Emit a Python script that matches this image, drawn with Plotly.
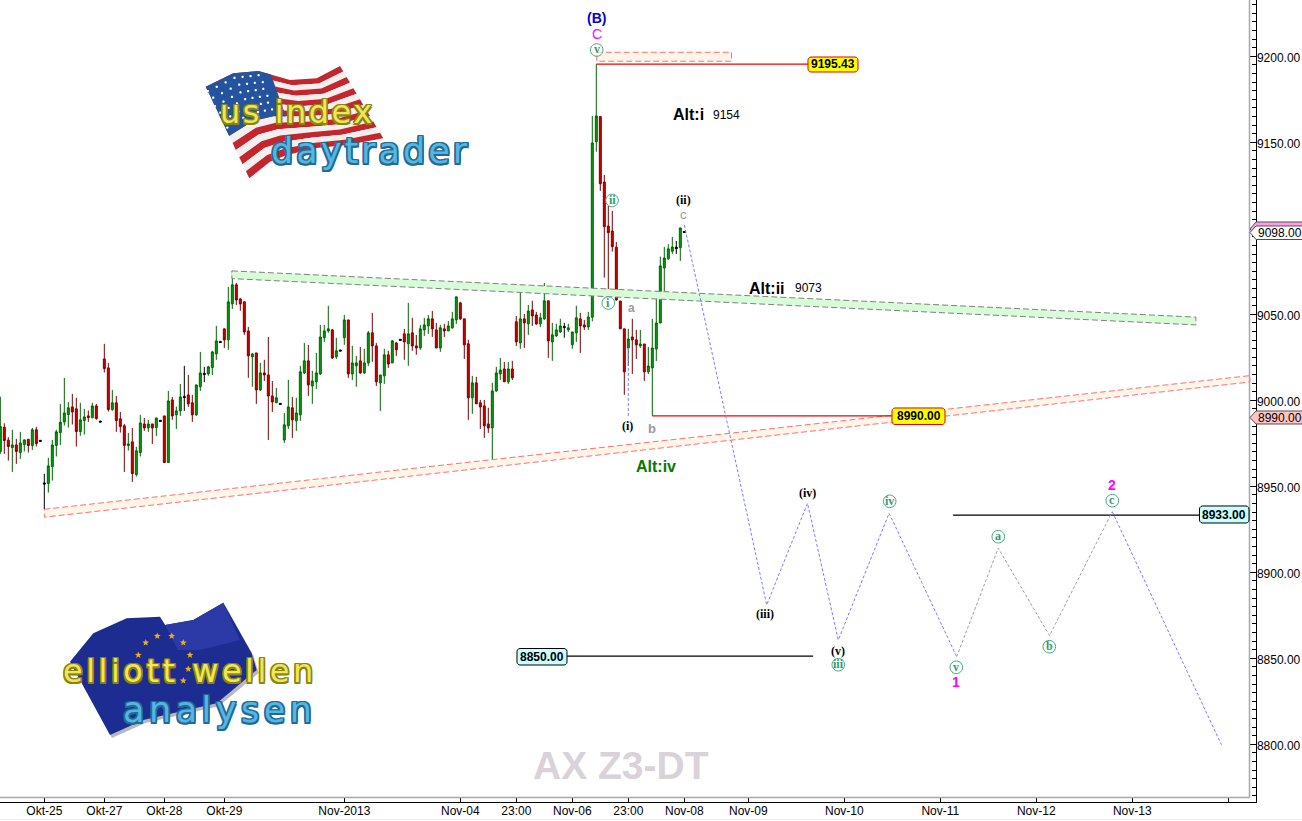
import math
import plotly.graph_objects as go

W, H = 1302, 821
AX_R, AX_B = 1255.5, 802

# ---------- candles (oldest first) ----------
candle_open = [8970.2,8984.3,8976.8,8972.5,8974.0,8969.6,8974.2,8977.3,8973.7,8982.8,8976.7,8951.9,8951.6,8961.4,8973.7,8981.2,8987.4,8991.7,8996.1,8995.0,
8981.8,8988.2,8990.9,8989.9,8996.7,8987.9,9024.0,9018.8,8994.6,8998.5,8989.2,8985.1,8973.7,8975.8,8956.8,8969.6,8986.2,8983.9,8986.2,8984.1,
8988.3,8990.9,8963.8,9000.2,8991.5,8993.8,9002.2,9003.1,8998.5,8991.5,9007.8,9015.6,9015.3,9019.0,9026.9,9034.2,9041.5,9035.1,9056.0,9067.1,
9058.9,9057.2,9040.3,9025.2,9027.5,9006.0,9015.9,9014.7,9002.5,8998.5,8998.2,8976.9,8985.1,8995.6,8988.0,8991.5,9015.9,9022.9,9008.3,9010.7,
9015.3,9036.3,9040.3,9040.9,9025.2,9029.2,9036.3,9046.7,9015.3,9020.0,9022.9,9015.9,9021.7,9039.2,9031.6,9010.1,9014.2,9026.4,9021.7,9033.3,
9035.4,9038.6,9032.8,9039.2,9031.6,9030.4,9040.9,9043.2,9047.3,9040.9,9030.4,9041.5,9040.3,9042.1,9046.7,9056.6,9047.3,9032.8,9001.4,9010.1,
8998.5,8996.7,8986.2,8983.9,9005.4,9015.3,9018.2,9010.7,9018.2,9045.6,9033.3,9047.3,9044.4,9052.5,9049.6,9044.4,9047.3,9057.8,9033.9,9037.4,
9039.7,9042.9,9040.9,9032.2,9039.2,9047.3,9043.8,9042.6,9048.3,9150.3,9164.9,9126.9,9101.3,9098.4,9089.0,9057.7,9041.5,9030.4,9036.8,9035.1,
9031.6,9032.7,9016.5,9018.8,9029.8,9044.9,9076.9,9082.2,9086.6,9089.0,9088.7,9098.1]
candle_high = [9002.1,8986.6,8978.5,8982.8,8977.5,8981.6,8977.3,8977.3,8983.9,8984.5,8976.7,8957.2,8966.5,8976.9,8982.8,8997.9,9013.0,8999.0,9003.7,9001.4,
8998.5,8995.0,8994.0,8998.5,8997.9,8987.9,9032.8,9021.7,9006.0,9002.5,8993.2,8986.2,8981.0,8983.9,8972.9,8991.5,8989.7,8988.6,8986.2,8989.7,
8988.3,8990.9,9005.4,9001.9,8996.3,9009.5,9020.0,9014.7,9003.1,9008.9,9028.1,9019.4,9020.0,9028.7,9043.2,9034.2,9041.5,9065.9,9075.2,9068.2,
9059.5,9057.2,9042.6,9027.5,9027.5,9021.7,9023.5,9036.8,9011.2,9007.2,8998.2,8992.6,9011.8,9001.9,9001.4,9020.0,9033.3,9032.2,9017.1,9027.5,
9043.8,9043.8,9054.9,9041.5,9036.3,9029.2,9049.6,9046.7,9031.6,9025.8,9031.0,9029.9,9040.3,9050.8,9033.3,9014.7,9029.9,9028.7,9035.1,9033.9,
9035.4,9041.5,9056.6,9047.9,9038.0,9043.8,9047.9,9049.6,9051.9,9045.0,9043.8,9044.4,9046.1,9051.4,9060.1,9057.2,9047.3,9035.1,9014.2,9013.6,
9000.2,9000.2,8995.6,9010.1,9019.4,9024.6,9022.3,9022.3,9022.9,9049.0,9063.6,9050.2,9055.4,9057.8,9051.4,9050.8,9068.2,9057.8,9045.0,9044.4,
9047.3,9045.0,9044.4,9039.7,9054.9,9050.8,9046.7,9051.4,9165.3,9195.4,9165.3,9131.0,9113.0,9110.1,9092.0,9057.7,9041.5,9041.5,9047.3,9040.9,
9040.9,9032.7,9031.0,9047.3,9063.5,9083.5,9089.1,9090.7,9094.9,9092.6,9100.2,9098.1]
candle_low = [8968.8,8968.8,8964.9,8958.3,8963.0,8965.9,8970.2,8969.6,8971.1,8973.1,8976.1,8936.6,8946.3,8953.3,8967.3,8974.0,8985.3,8984.1,8985.9,8973.1,
8979.3,8980.0,8987.4,8989.4,8988.6,8987.3,9016.1,8993.4,8993.8,8981.6,8981.2,8958.3,8970.7,8952.5,8955.6,8967.3,8982.2,8981.6,8974.6,8979.3,
8987.7,8963.8,8963.8,8988.6,8983.3,8990.9,8993.8,8996.1,8987.4,8990.9,9005.4,9010.5,9014.2,9014.7,9023.5,9033.6,9030.4,9029.3,9053.1,9055.4,
9052.0,9038.0,9013.0,9007.8,8997.9,9005.4,9011.2,8976.9,8993.2,8998.5,8997.6,8975.2,8983.3,8978.1,8982.2,8988.0,9015.3,9002.5,8997.9,9006.6,
9014.7,9033.9,9039.2,9024.0,9024.0,9028.6,9032.2,9013.0,9011.8,9007.8,9015.3,9015.3,9020.0,9022.3,9008.3,8993.8,9009.5,9018.8,9021.7,9025.8,
9034.8,9023.5,9020.0,9028.7,9026.4,9029.3,9037.4,9038.6,9036.8,9030.4,9028.1,9036.8,9040.3,9041.5,9044.4,9046.7,9024.0,8988.6,8992.1,8997.9,
8983.3,8978.1,8981.0,8965.3,9004.9,9011.8,9010.7,9009.5,9011.8,9031.6,9029.9,9030.4,9038.0,9043.2,9043.8,9042.6,9046.7,9024.6,9022.9,9036.8,
9039.2,9036.3,9039.7,9029.9,9033.9,9027.5,9040.9,9040.9,9045.9,9144.5,9121.7,9071.3,9063.0,9086.4,9057.9,9041.5,9003.1,9019.9,9015.3,9024.0,
9030.4,9011.2,9015.3,8990.9,9022.8,9044.9,9063.5,9081.6,9085.1,9085.1,9081.0,9097.5]
candle_close = [8984.7,8976.6,8973.1,8974.0,8970.2,8975.2,8976.9,8973.7,8982.8,8974.8,8976.1,8951.3,8961.8,8974.0,8981.6,8987.2,8992.6,8995.6,8993.2,8981.8,
8988.6,8990.3,8989.9,8996.7,8989.4,8987.3,9018.4,8994.6,8998.5,8988.2,8984.7,8973.7,8974.6,8957.4,8970.6,8986.8,8983.9,8986.2,8983.9,8989.7,
8987.7,8963.8,8999.6,8990.9,8993.8,9001.9,9001.6,8997.9,8991.5,9008.9,9015.9,9015.0,9019.4,9028.1,9034.5,9033.6,9035.1,9057.2,9067.1,9058.3,
9056.0,9039.7,9025.8,9026.9,9006.0,9015.9,9014.7,9002.5,8999.0,9001.4,8997.6,8985.7,8996.1,8988.6,8992.6,9016.5,9022.9,9008.9,9011.2,9015.9,
9036.8,9040.3,9041.5,9024.6,9028.7,9028.6,9046.7,9015.3,9021.7,9021.7,9015.9,9021.7,9039.2,9031.6,9010.7,9014.7,9026.4,9021.1,9034.5,9029.3,
9034.8,9033.9,9038.6,9031.6,9030.4,9041.5,9043.8,9047.3,9041.5,9030.4,9042.1,9040.3,9043.2,9047.3,9060.1,9047.3,9032.2,9001.4,9010.1,8997.9,
8996.1,8985.1,8983.9,9005.4,9015.9,9017.6,9010.7,9018.2,9013.0,9033.9,9047.3,9045.0,9051.9,9049.0,9044.4,9047.9,9057.8,9034.5,9038.0,9040.9,
9043.2,9042.3,9042.1,9039.7,9047.9,9043.2,9042.6,9048.4,9149.6,9165.3,9125.9,9100.9,9097.4,9089.3,9058.3,9041.5,9016.5,9035.6,9035.1,9032.2,
9032.7,9016.5,9019.9,9030.4,9044.9,9078.1,9082.7,9088.0,9089.1,9088.1,9100.2,9097.5]
doji_index = [10, 11, 25, 40, 46, 51, 55, 70, 85, 100, 141, 169, 171]

# ---------- drawn levels and projected wave ----------
level_9195 = 9195.4
level_8990 = 8990.9
level_8933 = 8933.2
level_8850 = 8851.2
swing_low_index = 163
peak_index = 149

wave_blue_a_x = [171, 191.6, 201.8, 209.5, 222.2, 239.1]
wave_blue_a_y = [9101.9, 8881.0, 8940.1, 8860.6, 8934.3, 8850.9]
wave_grey_x = [239.1, 249.5, 262.3, 278.0]
wave_grey_y = [8850.9, 8914.0, 8863.1, 8935.2]
wave_blue_b_x = [278.0, 305.3]
wave_blue_b_y = [8935.2, 8799.6]
wave_i_x = [157, 157]
wave_i_y = [9030.4, 8990.6]

green_chan_x = [57.9, 298.9, 298.9, 57.9, 57.9]
green_chan_y = [9075.2, 9048.3, 9043.8, 9070.7, 9075.2]
red_chan_x = [11, 312.4, 312.4, 11, 11]
red_chan_y = [8936.6, 9014.3, 9010.6, 8932.0, 8936.6]
top_box_x = [149.1, 182.8, 182.8, 149.1, 149.1]
top_box_y = [9202.3, 9202.3, 9197.1, 9197.1, 9202.3]

x_tick_index = [11, 26, 41, 56, 86, 115, 129, 143, 157, 171, 187, 211, 235, 259, 283, 307]
x_tick_text = ["Okt-25", "Okt-27", "Okt-28", "Okt-29", "Nov-2013", "Nov-04", "23:00", "Nov-06", "23:00",
               "Nov-08", "Nov-09", "Nov-10", "Nov-11", "Nov-12", "Nov-13", ""]

FONT = "Liberation Sans"
SERIF = "Liberation Serif"
TEAL = "#3faa82"

def px(x, y):
    return x / W, 1 - y / H

def path(points):
    s = []
    for i, (x, y) in enumerate(points):
        a, b = px(x, y)
        s.append(("M" if i == 0 else "L") + f"{a:.5f},{b:.5f}")
    return " ".join(s) + " Z"

shapes, notes = [], []

def poly(points, fill, line=None, width=1, layer="above"):
    shapes.append(dict(type="path", xref="paper", yref="paper", path=path(points), fillcolor=fill,
                       line=dict(color=line or "rgba(0,0,0,0)", width=width if line else 0), layer=layer))

def note(text, x, y, size=12, color="black", bold=False, family=FONT, italic=False):
    a, b = px(x, y)
    f = dict(family=family, size=size, color=color, weight=700 if bold else 400)
    if italic:
        f["style"] = "italic"
    notes.append(dict(text=text, x=a, y=b, xref="paper", yref="paper", xanchor="center", yanchor="middle",
                      showarrow=False, font=f, borderpad=0))

def outline_css(color):
    offs = [(1.5, 0), (-1.5, 0), (0, 1.5), (0, -1.5), (1.5, 1.5), (-1.5, -1.5), (1.5, -1.5), (-1.5, 1.5)]
    return ",".join(f"{a}px {b}px {color}" for a, b in offs)

def logo_word(text, x, y, size, spacing, fill, edge):
    styled = f'<span style="letter-spacing:{spacing}px;text-shadow:{outline_css(edge)}">{text}</span>'
    note(styled, x, y, size, fill, False, "DejaVu Sans")

def rrect(x0, y0, x1, y1, r, fill, line):
    pts = []
    for cx, cy, a0 in [(x1 - r, y0 + r, -90), (x1 - r, y1 - r, 0), (x0 + r, y1 - r, 90), (x0 + r, y0 + r, 180)]:
        for d in (0, 30, 60, 90):
            t = math.radians(a0 + d)
            pts.append((cx + r * math.cos(t), cy + r * math.sin(t)))
    poly(pts, fill, line, 1)

def circled(text, x, y):
    pts = [(x + 6.3 * math.cos(i * math.pi / 12), y + 6.3 * math.sin(i * math.pi / 12)) for i in range(24)]
    poly(pts, "rgba(255,255,255,0.6)", TEAL, 1)
    note(text, x, y - 0.5, 12, "#2f9a72", True, SERIF)

def star(cx, cy, r, fill):
    pts = []
    for i in range(10):
        rr = r if i % 2 == 0 else r * 0.42
        t = -math.pi / 2 + i * math.pi / 5
        pts.append((cx + rr * math.cos(t), cy + rr * math.sin(t)))
    poly(pts, fill)

# ---------- frame ----------
shapes.append(dict(type="line", xref="paper", yref="paper", x0=1249.5 / W, x1=1249.5 / W, y0=1 - 797.5 / H, y1=1,
                   line=dict(color="#a8a8a8", width=1.5), layer="above"))
shapes.append(dict(type="line", xref="paper", yref="paper", x0=0, x1=1249.5 / W, y0=1 - 797.5 / H, y1=1 - 797.5 / H,
                   line=dict(color="#a8a8a8", width=1.5), layer="above"))
shapes.append(dict(type="line", xref="paper", yref="paper", x0=0, x1=1, y0=1 - 819.5 / H, y1=1 - 819.5 / H,
                   line=dict(color="#f3eef3", width=1), layer="above"))

# ---------- US flag logo ----------
top = [(205.7, 86.7), (233.3, 73.3), (258.3, 71), (290, 80), (316.7, 78.3), (340, 66)]
bot = [(249.3, 178.3), (270, 161.7), (286.7, 155), (316.7, 148), (346.7, 145), (383.3, 138.3)]
def lerp(p, q, t):
    return (p[0] + (q[0] - p[0]) * t, p[1] + (q[1] - p[1]) * t)
for i in range(13):
    t0, t1 = i / 13, (i + 1) / 13
    pts = [lerp(a, b, t0) for a, b in zip(top, bot)] + [lerp(a, b, t1) for a, b in zip(top, bot)][::-1]
    poly(pts, "#c4262e" if i % 2 == 0 else "#f4efef")
c_t = 7 / 13
canton = top[:3] + [lerp(top[2], top[3], 0.4)] + [lerp(lerp(top[2], top[3], 0.4), lerp(bot[2], bot[3], 0.4), c_t)] + \
    [lerp(a, b, c_t) for a, b in zip(top[:3], bot[:3])][::-1]
poly(canton, "#24549f")
for r in range(6):
    for c in range(7):
        s = c / 6.6 * 2.15 + 0.07 * (r % 2)
        j = min(int(s), 4)
        f = s - j
        t_ = (r + 0.6) / 6.6 * c_t
        p = lerp(lerp(top[j], top[j + 1], f), lerp(bot[j], bot[j + 1], f), t_)
        pts = [(p[0] + 1.3 * math.cos(k * math.pi / 3), p[1] + 1.3 * math.sin(k * math.pi / 3)) for k in range(6)]
        poly(pts, "white")
logo_word("us index", 297.5, 112, 32, 2.5, "#efe65a", "#8c8412")
logo_word("daytrader", 370, 151, 35, 3, "#58b4e0", "#1e6c96")

# ---------- EU flag logo ----------
eu = [(70, 661.7), (93.3, 633.3), (126.7, 618.3), (160, 616.7), (165, 625), (193.3, 620), (223.3, 602.7),
      (251.7, 653.3), (256.7, 670), (216.7, 703.3), (143.3, 720), (110, 735)]
poly([(x + 2, y + 3) for x, y in eu], "#b8b8c0")
poly(eu, "#1d2c90")
poly([(165, 625), (193.3, 620), (223.3, 602.7), (240, 640), (200, 650), (178, 650)], "#2b3aa6")
for sx, sy in [(145.7, 642.7), (157.3, 636), (171.7, 636), (183.3, 642.7), (190, 655), (188.3, 669), (183.3, 680.7), (138.3, 655)]:
    star(sx, sy, 3.6, "#f0b010")
logo_word("elliott wellen", 190, 671, 32, 3.5, "#efe65a", "#8c8412")
logo_word("analysen", 219.5, 710, 35, 4.5, "#58b4e0", "#1e6c96")

# ---------- level boxes and tags ----------
rrect(808, 57, 858, 72, 3, "#ffff00", "#e00000")
note("9195.43", 833, 64.5, 12, bold=True)
rrect(892, 408, 945, 424.5, 3, "#ffff00", "#e00000")
note("8990.00", 918.5, 416.5, 12, bold=True)
rrect(1199.5, 506, 1249, 523, 3, "#c8ffff", "black")
note("8933.00", 1224, 514.5, 12, bold=True)
rrect(517, 648.5, 567, 665, 3, "#c8ffff", "black")
note("8850.00", 542, 657, 12, bold=True)

poly([(1250, 229), (1256, 222), (1303, 222), (1303, 236), (1256, 236)], "#ff9ee8", "#505050")
poly([(1250, 232.5), (1256, 226), (1303, 226), (1303, 239.5), (1256, 239.5)], "white", "#505050")
poly([(1250, 417.5), (1256, 411), (1303, 411), (1303, 424), (1256, 424)], "#ffc4c4", "#505050")
note("9098.00", 1280, 232.8, 12)
note("8990.00", 1280, 417.8, 12)

# ---------- wave labels ----------
note("(B)", 596, 18, 14, "#0000e0", True)
note("C", 596.5, 34, 14, "#ff00ff")
circled("v", 596.7, 50)
circled("ii", 612, 200.5)
circled("i", 608.3, 303)
note("a", 631.7, 308, 12, "#9a9a9a", True)
note("(i)", 627.7, 425.5, 12, "black", True, SERIF)
note("b", 651.7, 428, 13, "#9a9a9a", True)
note("(ii)", 684, 199.5, 12, "black", True, SERIF)
note("c", 684, 214, 13, "#9a9a9a")
note("(iii)", 765, 613.5, 12, "black", True, SERIF)
note("(iv)", 807.7, 492.5, 12, "black", True, SERIF)
note("(v)", 838.3, 650.5, 12, "black", True, SERIF)
circled("iii", 838.3, 664.7)
circled("iv", 889.7, 501.3)
circled("v", 956.3, 667.3)
circled("a", 998.3, 536.7)
circled("b", 1049.3, 646.7)
circled("c", 1112.3, 500.7)
note("1", 956.3, 682, 14, "#ff00ff", True)
note("2", 1112, 485, 14, "#ff00ff", True)
note("Alt:i", 688.5, 115, 16, "black", True)
note("9154", 726, 115, 12)
note("Alt:ii", 766.5, 288, 16, "black", True)
note("9073", 809, 288, 12)
note("Alt:iv", 655.5, 466, 16, "#007a00", True)
note("AX Z3-DT", 621, 765, 39, "#d9d2d9", True)

# ---------- traces ----------
fig = go.Figure()

def outline(x, y, fill, line):
    fig.add_trace(go.Scatter(x=x, y=y, mode="lines", fill="toself", fillcolor=fill,
                             line=dict(color=line, width=1, dash="6px,3px"), hoverinfo="skip", showlegend=False))

outline(green_chan_x, green_chan_y, "#d8fcd8", "#808080")
outline(red_chan_x, red_chan_y, "#fff5e8", "#ff7070")
outline(top_box_x, top_box_y, "#fff5e8", "#ff7070")

plain = [i for i in range(len(candle_open)) if i not in doji_index]
fig.add_trace(go.Candlestick(
    x=plain,
    open=[candle_open[i] for i in plain], high=[candle_high[i] for i in plain],
    low=[candle_low[i] for i in plain], close=[candle_close[i] for i in plain],
    increasing=dict(line=dict(color="#006400", width=1), fillcolor="#0a9a14"),
    decreasing=dict(line=dict(color="#7a0000", width=1), fillcolor="#d00000"),
    whiskerwidth=0, showlegend=False, hoverinfo="skip"))
fig.add_trace(go.Candlestick(
    x=doji_index,
    open=[candle_open[i] for i in doji_index], high=[candle_high[i] for i in doji_index],
    low=[candle_low[i] for i in doji_index], close=[candle_close[i] for i in doji_index],
    increasing=dict(line=dict(color="black", width=1), fillcolor="black"),
    decreasing=dict(line=dict(color="black", width=1), fillcolor="black"),
    whiskerwidth=0, showlegend=False, hoverinfo="skip"))

def seg(x, y, color, width=1, dash=None):
    fig.add_trace(go.Scatter(x=x, y=y, mode="lines", line=dict(color=color, width=width, dash=dash),
                             hoverinfo="skip", showlegend=False))

seg([peak_index, 201.9], [level_9195, level_9195], "#f00000", 1.4)
seg([swing_low_index, 222.9], [level_8990, level_8990], "#f00000", 1.4)
seg([238.2, 299.8], [level_8933, level_8933], "black", 1.4)
seg([141.7, 203.2], [level_8850, level_8850], "black", 1.4)
seg(wave_blue_a_x, wave_blue_a_y, "#7d7df5", 1, "3px,2px")
seg(wave_grey_x, wave_grey_y, "#a89ca8", 1, "3px,2px")
seg(wave_blue_b_x, wave_blue_b_y, "#7d7df5", 1, "3px,2px")
seg(wave_i_x, wave_i_y, "#7d7df5", 1, "3px,2px")

fig.update_layout(
    width=W, height=H, margin=dict(l=0, r=0, t=0, b=0), paper_bgcolor="white", plot_bgcolor="white",
    showlegend=False, shapes=shapes, annotations=notes, boxmode="overlay",
    font=dict(family=FONT, size=12, color="black"),
    xaxis=dict(domain=[0, AX_R / W], range=[-0.08, 313.8], rangeslider=dict(visible=False), showgrid=False, zeroline=False,
               tickmode="array", tickvals=x_tick_index, ticktext=x_tick_text, ticks="inside", ticklen=5, tickcolor="black",
               tickwidth=1, showline=True, linecolor="black", linewidth=1, tickangle=0, ticklabelstandoff=-2,
               tickfont=dict(family=FONT, size=12, color="black"), anchor="y"),
    yaxis=dict(domain=[1 - AX_B / H, 1], range=[8766.4, 9232.7], side="right", showgrid=False, zeroline=False,
               tickmode="array", tickvals=[8800, 8850, 8900, 8950, 9000, 9050, 9100, 9150, 9200],
               ticktext=["8800.00", "8850.00", "8900.00", "8950.00", "9000.00", "9050.00", "", "9150.00", "9200.00"],
               ticks="inside", ticklen=5.5, tickcolor="black", tickwidth=1, ticklabelstandoff=-2, ticklabelshift=2,
               minor=dict(dtick=5, ticks="inside", ticklen=3.5, tickcolor="black", tickwidth=1),
               showline=True, linecolor="black", linewidth=1,
               tickfont=dict(family=FONT, size=12, color="black"), anchor="x"),
)

fig.write_html("out.html", config=dict(displayModeBar=False),
               post_script="document.body.style.margin='0';document.body.style.overflow='hidden';")
